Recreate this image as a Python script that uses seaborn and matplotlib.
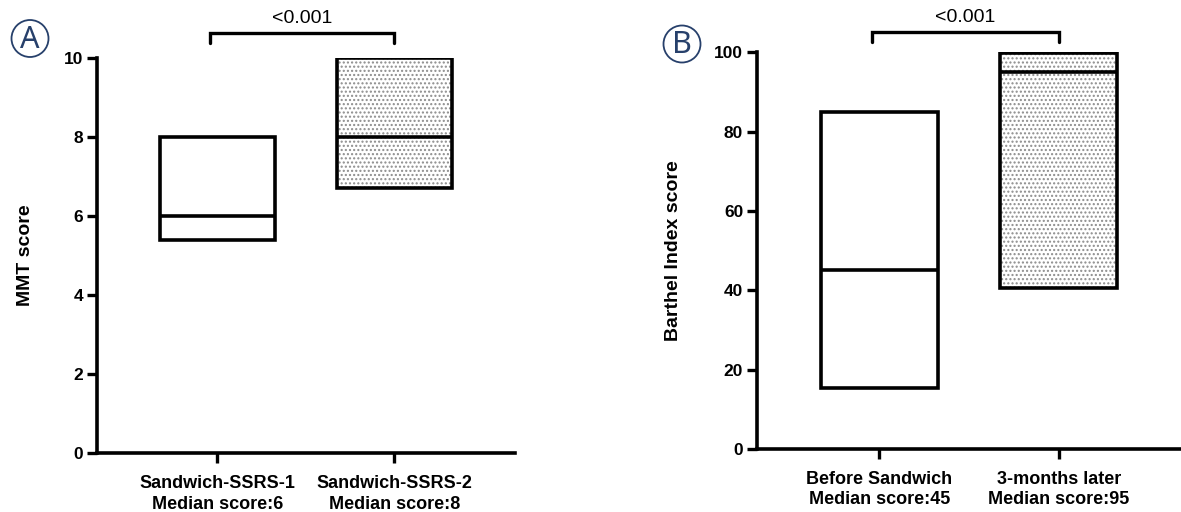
import numpy as np
import pandas as pd
import matplotlib
matplotlib.use("Agg")
import matplotlib.pyplot as plt
from matplotlib.patches import Rectangle, Circle
import seaborn as sns

# panel A
a_groups = ["Sandwich-SSRS-1\nMedian score:6", "Sandwich-SSRS-2\nMedian score:8"]
a_low = [5.4, 6.7]
a_high = [8.0, 10.0]
a_median = [6.0, 8.0]
a_ylabel = "MMT score"
a_yticks = [0, 2, 4, 6, 8, 10]

# panel B
b_groups = ["Before Sandwich\nMedian score:45", "3-months later\nMedian score:95"]
b_low = [15.5, 40.5]
b_high = [85.0, 99.7]
b_median = [45.0, 95.0]
b_ylabel = "Barthel Index score"
b_yticks = [0, 20, 40, 60, 80, 100]

p_text = "<0.001"

sns.set_theme(style="ticks")
plt.rcParams["font.family"] = ["Liberation Sans", "DejaVu Sans"]
plt.rcParams["hatch.linewidth"] = 1.0
plt.rcParams["axes.edgecolor"] = "black"
plt.rcParams["xtick.color"] = "black"
plt.rcParams["ytick.color"] = "black"
plt.rcParams["text.color"] = "black"
plt.rcParams["axes.labelcolor"] = "black"

navy = "#27406b"
BW = 0.65


def panel(ax, groups, low, high, med, ylabel, yticks, ymax, brk):
    df = pd.DataFrame({"group": groups, "height": np.array(high) - np.array(low),
                       "low": low})
    sns.barplot(data=df, x="group", y="height", bottom=df["low"].values,
                width=BW, color="white", edgecolor="black", linewidth=2.6,
                ax=ax, zorder=3)
    # dotted fill for the second group, under the outline
    p = ax.patches[1]
    ax.add_patch(Rectangle(p.get_xy(), p.get_width(), p.get_height(),
                           facecolor="white", edgecolor="0.55", linewidth=0,
                           hatch="....", zorder=2.5))
    p.set_facecolor("none")
    for i, m in enumerate(med):
        ax.hlines(m, i - BW / 2, i + BW / 2, color="black", lw=2.6, zorder=4)

    ax.set_xlim(-0.68, 1.68)
    ax.set_ylim(0, ymax)
    ax.set_yticks(yticks)
    ax.set_xlabel("")
    ax.set_ylabel(ylabel, fontsize=14, fontweight="bold")
    sns.despine(ax=ax)
    for s in ["left", "bottom"]:
        ax.spines[s].set_linewidth(2.6)
    ax.tick_params(width=2.4, length=7, pad=3)
    ax.tick_params(axis="y", labelsize=12.5)
    ax.tick_params(axis="x", labelsize=13, pad=9)
    for t in ax.get_xticklabels() + ax.get_yticklabels():
        t.set_fontweight("bold")
        t.set_linespacing(1.25)

    # significance bracket
    y0, y1, yt = brk
    ax.plot([-0.04, -0.04, 1.0, 1.0], [y0, y1, y1, y0], color="black", lw=2.4,
            clip_on=False, solid_joinstyle="miter")
    ax.text(0.48, yt, p_text, ha="center", va="center", fontsize=14,
            clip_on=False)
    return ax


fig = plt.figure(figsize=(11.81, 5.12), dpi=100)
axA = fig.add_axes([0.082, 0.115, 0.354, 0.772])
axB = fig.add_axes([0.641, 0.123, 0.359, 0.775])

panel(axA, a_groups, a_low, a_high, a_median, a_ylabel, a_yticks, 10,
      (10.38, 10.63, 11.0))
panel(axB, b_groups, b_low, b_high, b_median, b_ylabel, b_yticks, 100,
      (102.5, 105.0, 108.8))
axA.yaxis.set_label_coords(-0.15, 0.5)
axB.yaxis.set_label_coords(-0.176, 0.5)

# circled panel letters (centres in pixels from bottom-left)
for (cx, cy), letter in [((30, 473.5), "A"), ((682, 468), "B")]:
    fig.patches.append(Circle((cx / 100, cy / 100), 0.185,
                              transform=fig.dpi_scale_trans,
                              facecolor="none", edgecolor=navy, lw=1.3,
                              figure=fig))
    fig.text(cx / 1181, cy / 512 - 0.002, letter, ha="center", va="center",
             fontsize=22, color=navy, family=["Noto Sans", "DejaVu Sans"])

fig.savefig("out.png", dpi=100)
